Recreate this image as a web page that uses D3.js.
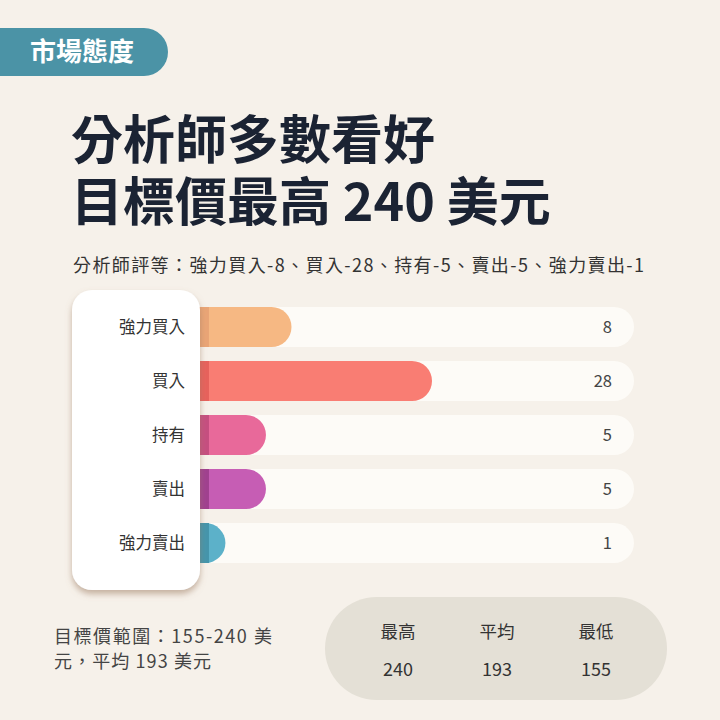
<!DOCTYPE html>
<html>
<head>
<meta charset="utf-8">
<script src="https://cdn.jsdelivr.net/npm/d3@7"></script>
<style>
  html, body { margin: 0; padding: 0; background: #f6f1ea; }
  svg { display: block; font-family: "Noto Sans CJK TC", "Noto Sans", sans-serif; }
</style>
</head>
<body>
<svg id="chart"></svg>
<script>
const categories = ["強力買入", "買入", "持有", "賣出", "強力賣出"];
const counts = [8, 28, 5, 5, 1];
const barColors = ["#f6b883", "#f97d73", "#e8699a", "#c65db4", "#5cb1c9"];
const stripColors = ["#e9a576", "#e6625c", "#c54f80", "#a0418f", "#4595ab"];

const statLabels = ["最高", "平均", "最低"];
const statValues = [240, 193, 155];

const width = 720, height = 720;

const svg = d3.select("#chart")
    .attr("width", width)
    .attr("height", height);

svg.append("rect")
    .attr("width", width)
    .attr("height", height)
    .attr("fill", "#f6f1ea");

const defs = svg.append("defs");
const shadow = defs.append("filter")
    .attr("id", "cardShadow")
    .attr("x", "-20%").attr("y", "-10%")
    .attr("width", "140%").attr("height", "130%");
shadow.append("feDropShadow")
    .attr("dx", 0).attr("dy", 4)
    .attr("stdDeviation", 3)
    .attr("flood-color", "#9c7b62")
    .attr("flood-opacity", 0.55);

// tag top-left
svg.append("path")
    .attr("d", "M0,28 H144 A24,24 0 0 1 144,76 H0 Z")
    .attr("fill", "#4b93a6");
svg.append("text")
    .attr("x", 30).attr("y", 61)
    .attr("fill", "#ffffff")
    .attr("font-size", 26)
    .attr("font-weight", 700)
    .text("市場態度");

// title (one text, two lines)
const title = svg.append("text")
    .attr("fill", "#1b2333")
    .attr("font-size", 52)
    .attr("font-weight", 700);
title.append("tspan")
    .attr("x", 71).attr("y", 159)
    .text("分析師多數看好");
title.append("tspan")
    .attr("x", 71).attr("y", 221)
    .text("目標價最高 240 美元");

svg.append("text")
    .attr("x", 73).attr("y", 272)
    .attr("fill", "#333333")
    .attr("font-size", 18)
    .attr("textLength", 571)
    .attr("lengthAdjust", "spacing")
    .text("分析師評等：強力買入-8、買入-28、持有-5、賣出-5、強力賣出-1");

// bars
const y = d3.scaleBand()
    .domain(categories)
    .range([300, 570])
    .paddingInner(0.26)
    .paddingOuter(0.13);

const x0 = 200, trackEnd = 634;
const w = d3.scalePow()
    .exponent(0.8)
    .domain([0, d3.max(counts)])
    .range([10, 232]);

const bh = y.bandwidth();

function pill(xs, yt, len, h) {
    const rr = Math.min(h / 2, len);
    return `M${xs},${yt} H${xs + len - rr} A${rr},${h / 2} 0 0 1 ${xs + len - rr},${yt + h} H${xs} Z`;
}

const rows = svg.selectAll("g.row")
    .data(categories)
    .enter()
    .append("g")
    .attr("class", "row");

rows.append("path")
    .attr("d", d => pill(x0 - 20, y(d), trackEnd - x0 + 20, bh))
    .attr("fill", "#fdfbf7");

rows.append("path")
    .attr("d", (d, i) => pill(x0 - 20, y(d), w(counts[i]) + 20, bh))
    .attr("fill", (d, i) => barColors[i]);

rows.append("rect")
    .attr("x", x0 - 20)
    .attr("y", d => y(d))
    .attr("width", 29)
    .attr("height", bh)
    .attr("fill", (d, i) => stripColors[i]);

rows.append("text")
    .attr("x", 612)
    .attr("y", d => y(d) + bh / 2)
    .attr("dy", "0.36em")
    .attr("text-anchor", "end")
    .attr("fill", "#444444")
    .attr("font-size", 16.5)
    .text((d, i) => counts[i]);

// label card
svg.append("rect")
    .attr("x", 72).attr("y", 290)
    .attr("width", 128).attr("height", 300)
    .attr("rx", 20)
    .attr("fill", "#ffffff")
    .attr("filter", "url(#cardShadow)");

svg.selectAll("text.cat")
    .data(categories)
    .enter()
    .append("text")
    .attr("class", "cat")
    .attr("x", 185)
    .attr("y", d => y(d) + bh / 2)
    .attr("dy", "0.36em")
    .attr("text-anchor", "end")
    .attr("fill", "#333333")
    .attr("font-size", 16.5)
    .text(d => d);

// bottom text
svg.append("text")
    .attr("x", 54).attr("y", 643)
    .attr("fill", "#444444")
    .attr("font-size", 18)
    .attr("textLength", 218)
    .attr("lengthAdjust", "spacing")
    .text("目標價範圍：155-240 美");
svg.append("text")
    .attr("x", 54).attr("y", 668)
    .attr("fill", "#444444")
    .attr("font-size", 18)
    .attr("textLength", 157)
    .attr("lengthAdjust", "spacing")
    .text("元，平均 193 美元");

// stats pill
svg.append("rect")
    .attr("x", 325).attr("y", 597)
    .attr("width", 342).attr("height", 103)
    .attr("rx", 51.5)
    .attr("fill", "#e4e0d6");

const sx = d3.scalePoint()
    .domain(statLabels)
    .range([398, 596]);

svg.selectAll("text.slab")
    .data(statLabels)
    .enter()
    .append("text")
    .attr("class", "slab")
    .attr("x", d => sx(d))
    .attr("y", 638)
    .attr("text-anchor", "middle")
    .attr("fill", "#333333")
    .attr("font-size", 17.5)
    .text(d => d);

svg.selectAll("text.sval")
    .data(statValues)
    .enter()
    .append("text")
    .attr("class", "sval")
    .attr("x", (d, i) => sx(statLabels[i]))
    .attr("y", 676)
    .attr("text-anchor", "middle")
    .attr("fill", "#333333")
    .attr("font-size", 18)
    .text(d => d);
</script>
</body>
</html>
